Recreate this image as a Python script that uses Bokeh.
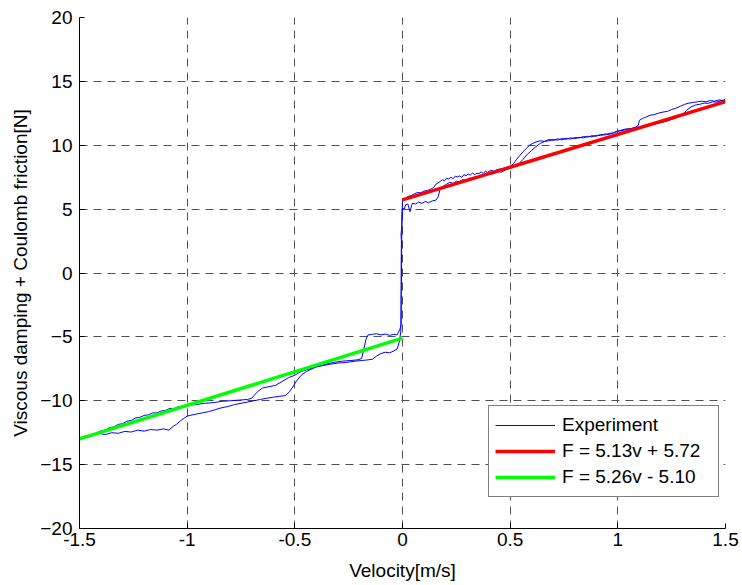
from bokeh.plotting import figure
from bokeh.models import Legend, LegendItem, FixedTicker, Range1d
from bokeh.embed import file_html
from bokeh.resources import INLINE

# ---- axis setup -------------------------------------------------------------
x_ticks = [-1.5, -1.0, -0.5, 0.0, 0.5, 1.0, 1.5]
x_tick_labels = ["-1.5", "-1", "-0.5", "0", "0.5", "1", "1.5"]
y_ticks = [-20, -15, -10, -5, 0, 5, 10, 15, 20]

# ---- measured friction force (hysteresis loop) -------------------------------
# positive velocity, upper branch
pos_up_v = [0.000, 0.010, 0.025, 0.040, 0.055, 0.070, 0.085, 0.100, 0.115, 0.130,
            0.145, 0.155, 0.170, 0.185, 0.195, 0.205, 0.215, 0.225, 0.235, 0.245,
            0.255, 0.265, 0.275, 0.285, 0.295, 0.305, 0.315, 0.325, 0.335, 0.345,
            0.355, 0.365, 0.375, 0.385, 0.395, 0.410, 0.425, 0.440, 0.460, 0.480,
            0.500, 0.515, 0.530, 0.545, 0.560, 0.575, 0.590, 0.605, 0.620, 0.640,
            0.660, 0.680, 0.700, 0.720, 0.740, 0.760, 0.780, 0.800, 0.820, 0.840,
            0.860, 0.880, 0.900, 0.920, 0.940, 0.960, 0.980, 1.000, 1.020, 1.040,
            1.060, 1.080, 1.095, 1.100, 1.115, 1.130, 1.150, 1.170, 1.190, 1.210,
            1.230, 1.250, 1.270, 1.290, 1.310, 1.330, 1.350, 1.370, 1.390, 1.410,
            1.430, 1.450, 1.470, 1.490, 1.500]
pos_up_f = [5.60, 5.75, 6.00, 6.05, 6.20, 6.30, 6.28, 6.42, 6.45, 6.55,
            6.70, 6.95, 7.10, 7.30, 7.22, 7.42, 7.36, 7.50, 7.38, 7.58,
            7.52, 7.60, 7.48, 7.70, 7.62, 7.74, 7.66, 7.82, 7.70, 7.80,
            7.78, 7.92, 7.80, 7.96, 7.88, 8.05, 7.95, 8.10, 8.15, 8.25,
            8.35, 8.55, 8.90, 9.20, 9.50, 9.75, 10.00, 10.15, 10.25, 10.35,
            10.30, 10.45, 10.38, 10.50, 10.42, 10.55, 10.48, 10.60, 10.57, 10.68,
            10.64, 10.75, 10.70, 10.85, 10.80, 10.92, 10.95, 11.10, 11.15, 11.25,
            11.30, 11.40, 11.55, 11.95, 12.10, 12.20, 12.35, 12.40, 12.52, 12.60,
            12.65, 12.80, 12.90, 13.05, 13.20, 13.30, 13.35, 13.40, 13.45, 13.40,
            13.50, 13.45, 13.55, 13.50, 13.65]

# positive velocity, lower branch
pos_lo_v = [0.000, 0.008, 0.015, 0.025, 0.035, 0.045, 0.060, 0.075, 0.090, 0.105,
            0.120, 0.140, 0.155, 0.165, 0.175, 0.190, 0.205, 0.220, 0.235, 0.250,
            0.265, 0.280, 0.295, 0.310, 0.325, 0.340, 0.355, 0.370, 0.385, 0.400,
            0.420, 0.440, 0.460, 0.480, 0.500, 0.520, 0.540, 0.560, 0.580, 0.600,
            0.620, 0.640, 0.660, 0.680, 0.700, 0.720, 0.740, 0.760, 0.780, 0.800,
            0.820, 0.840, 0.860, 0.880, 0.900, 0.920, 0.940, 0.960, 0.980, 1.000,
            1.030, 1.060, 1.090, 1.120, 1.150, 1.180, 1.210, 1.240, 1.270, 1.300,
            1.320, 1.340, 1.360, 1.380, 1.400, 1.420, 1.440, 1.460, 1.480, 1.500]
pos_lo_f = [5.10, 5.00, 5.35, 5.40, 4.80, 5.45, 5.40, 5.55, 5.45, 5.60,
            5.50, 5.65, 5.70, 5.95, 6.55, 6.80, 6.95, 7.10, 7.02, 7.18,
            7.15, 7.32, 7.26, 7.42, 7.40, 7.55, 7.50, 7.66, 7.62, 7.78,
            7.75, 7.92, 7.90, 8.08, 8.20, 8.35, 8.55, 8.90, 9.30, 9.60,
            9.90, 10.15, 10.30, 10.35, 10.45, 10.40, 10.52, 10.47, 10.58, 10.52,
            10.62, 10.58, 10.70, 10.66, 10.78, 10.75, 10.88, 10.85, 11.00, 11.10,
            11.25, 11.30, 11.40, 11.45, 11.60, 11.70, 11.80, 11.95, 12.15, 12.40,
            12.75, 13.00, 13.15, 13.20, 13.30, 13.28, 13.40, 13.38, 13.50, 13.55]

# negative velocity, upper branch
neg_up_v = [-1.500, -1.480, -1.460, -1.440, -1.420, -1.400, -1.380, -1.360, -1.340, -1.320,
            -1.300, -1.280, -1.260, -1.240, -1.220, -1.200, -1.180, -1.160, -1.140, -1.120,
            -1.100, -1.080, -1.060, -1.040, -1.020, -1.000, -0.960, -0.920, -0.880, -0.840,
            -0.800, -0.760, -0.720, -0.700, -0.685, -0.670, -0.650, -0.620, -0.590, -0.560,
            -0.530, -0.500, -0.470, -0.440, -0.400, -0.360, -0.320, -0.280, -0.240, -0.210,
            -0.190, -0.180, -0.170, -0.160, -0.140, -0.120, -0.100, -0.080, -0.060, -0.040,
            -0.025, -0.012, -0.006]
neg_up_f = [-12.95, -12.80, -12.85, -12.60, -12.55, -12.35, -12.30, -12.10, -12.05, -11.85,
            -11.80, -11.60, -11.55, -11.35, -11.30, -11.15, -11.10, -10.95, -10.95, -10.80,
            -10.75, -10.60, -10.60, -10.45, -10.45, -10.35, -10.30, -10.20, -10.15, -10.05,
            -10.00, -9.95, -9.90, -9.80, -9.50, -9.25, -9.00, -8.90, -8.80, -8.50,
            -8.20, -8.00, -7.70, -7.55, -7.35, -7.15, -7.00, -6.90, -6.85, -6.80,
            -6.70, -6.00, -5.20, -4.85, -4.80, -4.75, -4.85, -4.78, -4.88, -4.80,
            -4.85, -4.40, -4.00]

# negative velocity, lower branch
neg_lo_v = [-1.500, -1.470, -1.440, -1.410, -1.380, -1.350, -1.320, -1.290, -1.260, -1.230,
            -1.200, -1.170, -1.140, -1.110, -1.085, -1.065, -1.050, -1.030, -1.000, -0.960,
            -0.930, -0.900, -0.870, -0.840, -0.810, -0.780, -0.750, -0.720, -0.690, -0.660,
            -0.630, -0.600, -0.570, -0.545, -0.525, -0.505, -0.490, -0.470, -0.445, -0.420,
            -0.400, -0.370, -0.340, -0.300, -0.260, -0.220, -0.190, -0.160, -0.140, -0.120,
            -0.100, -0.080, -0.060, -0.040, -0.025, -0.015, -0.008]
neg_lo_f = [-12.90, -12.75, -12.70, -12.55, -12.65, -12.50, -12.55, -12.40, -12.45, -12.30,
            -12.38, -12.25, -12.30, -12.20, -12.30, -12.00, -11.85, -11.55, -11.20, -11.05,
            -10.95, -10.85, -10.70, -10.55, -10.45, -10.30, -10.20, -10.10, -10.00, -9.90,
            -9.80, -9.72, -9.65, -9.60, -9.30, -8.80, -8.40, -8.00, -7.70, -7.50,
            -7.35, -7.25, -7.15, -7.05, -7.00, -6.90, -6.85, -6.80, -6.75, -6.50,
            -6.30, -6.20, -6.25, -6.10, -5.95, -5.40, -4.60]

# stick-slip transitions around zero velocity
jump_down_v = [0.000, -0.002, -0.004, -0.005, -0.006, -0.006]
jump_down_f = [5.60, 4.50, 2.00, 0.00, -2.00, -4.00]
jump_up_v = [-0.008, -0.007, -0.006, -0.006, -0.005, -0.007, -0.004, -0.002, 0.000]
jump_up_f = [-4.60, -3.00, -1.00, 1.00, 2.50, 3.00, 3.50, 4.80, 5.10]

# ---- linear fits --------------------------------------------------------------
fit_pos_slope, fit_pos_icpt = 5.13, 5.72
fit_neg_slope, fit_neg_icpt = 5.26, -5.10
fit_pos_v = [0.0, 1.5]
fit_neg_v = [-1.5, 0.0]
fit_pos_f = [fit_pos_slope * v + fit_pos_icpt for v in fit_pos_v]
fit_neg_f = [fit_neg_slope * v + fit_neg_icpt for v in fit_neg_v]

# one continuous measurement path through the loop
exp_v = (pos_up_v[::-1] + jump_down_v + neg_up_v[::-1] + neg_lo_v + jump_up_v + pos_lo_v)
exp_f = (pos_up_f[::-1] + jump_down_f + neg_up_f[::-1] + neg_lo_f + jump_up_f + pos_lo_f)

FONT = "Liberation Sans"

p = figure(width=742, height=585, output_backend="svg", toolbar_location=None,
           x_range=Range1d(-1.5, 1.5), y_range=Range1d(-20, 20),
           min_border_left=79, min_border_right=17, min_border_top=17,
           min_border_bottom=57, background_fill_color="white",
           border_fill_color="white", outline_line_color=None)

r_exp = p.line(exp_v, exp_f, line_color="#0000ff", line_width=1)
r_pos = p.line(fit_pos_v, fit_pos_f, line_color="#ff0000", line_width=3.5)
r_neg = p.line(fit_neg_v, fit_neg_f, line_color="#00ff00", line_width=3.5)

# axes
p.xaxis.ticker = FixedTicker(ticks=x_ticks)
p.xaxis.major_label_overrides = {t: s for t, s in zip(x_ticks, x_tick_labels)}
p.yaxis.ticker = FixedTicker(ticks=y_ticks)
p.xaxis.axis_label = "Velocity[m/s]"
p.yaxis.axis_label = "Viscous damping + Coulomb friction[N]"

for ax in (p.xaxis[0], p.yaxis[0]):
    ax.axis_line_color = "black"
    ax.axis_line_width = 1
    ax.major_tick_in = 5
    ax.major_tick_out = 0
    ax.major_tick_line_color = "black"
    ax.minor_tick_line_color = None
    ax.major_label_text_font = FONT
    ax.major_label_text_font_size = "19px"
    ax.major_label_text_color = "black"
    ax.axis_label_text_font = FONT
    ax.axis_label_text_font_size = "19px"
    ax.axis_label_text_font_style = "normal"
    ax.axis_label_text_color = "black"

p.xaxis.major_label_standoff = 4
p.xaxis.axis_label_standoff = 11
p.yaxis.major_label_standoff = 7
p.yaxis.axis_label_standoff = 6

# dashed grid
p.xgrid.ticker = FixedTicker(ticks=x_ticks)
p.ygrid.ticker = FixedTicker(ticks=y_ticks)
for g in (p.xgrid[0], p.ygrid[0]):
    g.grid_line_color = "#505050"
    g.grid_line_width = 1
    g.grid_line_dash = "8 6"

legend = Legend(items=[
    LegendItem(label="Experiment", renderers=[r_exp]),
    LegendItem(label="F = 5.13v + 5.72", renderers=[r_pos]),
    LegendItem(label="F = 5.26v - 5.10", renderers=[r_neg]),
], location=(409, 31))
legend.border_line_color = "black"
legend.border_line_width = 1
legend.background_fill_color = "white"
legend.background_fill_alpha = 1.0
legend.padding = 6
legend.spacing = 0
legend.margin = 0
legend.glyph_width = 60
legend.glyph_height = 26
legend.label_height = 26
legend.label_width = 150
legend.label_standoff = 7
legend.label_text_font = FONT
legend.label_text_font_size = "19px"
legend.label_text_color = "black"
p.add_layout(legend)

open("out.html", "w").write(file_html(p, INLINE))
